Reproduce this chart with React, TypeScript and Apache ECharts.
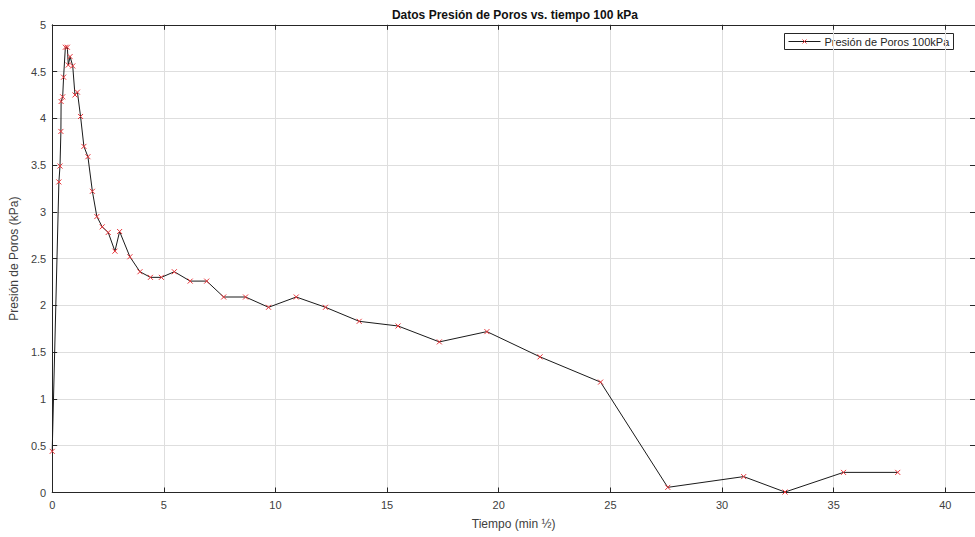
import React, { useEffect, useRef } from "react";
import * as echarts from "echarts";

const timeValues = [
  0, 0.3, 0.35, 0.39, 0.4, 0.47, 0.51, 0.59, 0.68, 0.72, 0.8, 0.92, 1.02, 1.13, 1.27, 1.42, 1.6, 1.8, 2.0,
  2.24, 2.51, 2.81, 3.02, 3.48, 3.93, 4.4, 4.89, 5.47, 6.18, 6.92, 7.68, 8.66, 9.69, 10.93, 12.24, 13.75,
  15.49, 17.34, 19.47, 21.85, 24.56, 27.57, 30.97, 32.82, 35.44, 37.87,
];
const pressureValues = [
  0.44, 3.32, 3.49, 3.86, 4.18, 4.23, 4.44, 4.76, 4.76, 4.57, 4.66, 4.56, 4.25, 4.28, 4.02, 3.7, 3.59, 3.22,
  2.95, 2.84, 2.78, 2.58, 2.79, 2.52, 2.36, 2.3, 2.3, 2.36, 2.26, 2.26, 2.09, 2.09, 1.98, 2.09, 1.98, 1.83,
  1.78, 1.61, 1.72, 1.45, 1.18, 0.055, 0.17, 0.005, 0.215, 0.215,
];
const seriesName = "Presión de Poros 100kPa";
const titleText = "Datos Presión de Poros vs. tiempo 100 kPa";
const xName = "Tiempo (min ½)";
const yName = "Presión de Poros (kPa)";

const FONT = "'Liberation Sans', Arial, sans-serif";
const AXIS_COLOR = "#262626";
const LABEL_COLOR = "#404040";
const GRID_COLOR = "#dedede";
const CROSS = "path://M0,0L10,10M10,0L0,10";

export default function App() {
  const ref = useRef<HTMLDivElement>(null);
  useEffect(() => {
    if (!ref.current) return;
    const chart = echarts.init(ref.current, null, { renderer: "svg" });
    const data = timeValues.map((t, i) => [t, pressureValues[i]]);
    const common = {
      type: "value" as const,
      axisLine: { show: true, onZero: false, lineStyle: { color: AXIS_COLOR, width: 1 } },
      axisTick: { show: true, inside: true, length: 5, lineStyle: { color: AXIS_COLOR } },
    };
    chart.setOption({
      animation: false,
      backgroundColor: "#ffffff",
      title: {
        text: titleText,
        left: 510,
        textAlign: "center",
        top: 4,
        textStyle: { fontFamily: FONT, fontSize: 12, fontWeight: "bold", color: "#111" },
      },
      grid: { left: 50.5, right: 0, top: 24.8, bottom: 44.5, containLabel: false },
      xAxis: [
        {
          ...common,
          position: "bottom",
          min: 0,
          max: 41.33,
          interval: 5,
          name: xName,
          nameLocation: "middle",
          nameGap: 25,
          nameTextStyle: { fontFamily: FONT, fontSize: 12, color: LABEL_COLOR },
          axisLabel: {
            fontFamily: FONT,
            fontSize: 11,
            color: LABEL_COLOR,
            margin: 7,
            showMaxLabel: false,
            formatter: (v: number) => (v % 5 === 0 ? String(v) : ""),
          },
          splitLine: { show: true, lineStyle: { color: GRID_COLOR, width: 1 } },
        },
        {
          ...common,
          position: "top",
          min: 0,
          max: 41.33,
          interval: 5,
          axisLabel: { show: false },
          splitLine: { show: false },
        },
      ],
      yAxis: [
        {
          ...common,
          position: "left",
          min: 0,
          max: 5,
          interval: 0.5,
          name: yName,
          nameLocation: "middle",
          nameGap: 25,
          nameTextStyle: { fontFamily: FONT, fontSize: 12, color: LABEL_COLOR },
          axisLabel: { fontFamily: FONT, fontSize: 11, color: LABEL_COLOR, margin: 6 },
          splitLine: { show: true, lineStyle: { color: GRID_COLOR, width: 1 } },
        },
        {
          ...common,
          position: "right",
          min: 0,
          max: 5,
          interval: 0.5,
          axisLabel: { show: false },
          splitLine: { show: false },
        },
      ],
      series: [
        {
          name: seriesName,
          type: "line",
          xAxisIndex: 0,
          yAxisIndex: 0,
          data,
          symbol: CROSS,
          symbolSize: 5,
          showAllSymbol: true,
          lineStyle: { color: "#1a1a1a", width: 1 },
          itemStyle: { color: "none", borderColor: "#e8353a", borderWidth: 1 },
          emphasis: { disabled: true },
          z: 3,
        },
      ],
      graphic: [
        {
          type: "group",
          left: 784,
          top: 33,
          children: [
            {
              type: "rect",
              shape: { x: 0, y: 0, width: 169, height: 16 },
              style: { fill: "#ffffff", stroke: "#262626", lineWidth: 1 },
            },
            {
              type: "line",
              shape: { x1: 4, y1: 8, x2: 36, y2: 8 },
              style: { stroke: "#1a1a1a", lineWidth: 1 },
            },
            {
              type: "line",
              shape: { x1: 18, y1: 6, x2: 22, y2: 10 },
              style: { stroke: "#e8353a", lineWidth: 1 },
            },
            {
              type: "line",
              shape: { x1: 22, y1: 6, x2: 18, y2: 10 },
              style: { stroke: "#e8353a", lineWidth: 1 },
            },
            {
              type: "text",
              x: 40,
              y: 8,
              style: {
                text: seriesName,
                fontFamily: FONT,
                fontSize: 11,
                fill: "#262626",
                verticalAlign: "middle",
              },
            },
          ],
        },
      ],
    });
    return () => chart.dispose();
  }, []);
  return (
    <div
      ref={ref}
      style={{ position: "fixed", left: 0, top: 0, width: 975, height: 537, background: "#fff" }}
    />
  );
}
